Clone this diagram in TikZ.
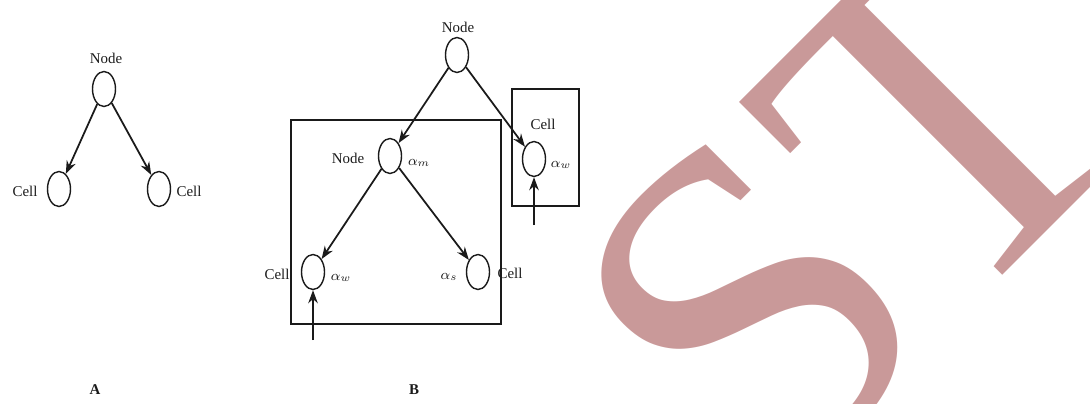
\documentclass[tikz,border=0pt]{standalone}
\usepackage{fontspec}
\setmainfont{Liberation Serif}
\usepackage{xcolor}
\definecolor{inkgray}{HTML}{1A1A1A}
\definecolor{markrose}{HTML}{C99999}
\usepackage{tikz}
\usetikzlibrary{shapes.geometric, arrows.meta}
\tikzset{
  tnode/.style={ellipse, draw=inkgray, line width=0.8pt, minimum width=4.6mm, minimum height=7mm, inner sep=0pt},
  tarr/.style ={-{Stealth[length=2.6mm, width=1.9mm]}, line width=1pt, color=inkgray},
  tlbl/.style ={font=\fontsize{8.5}{10}\selectfont, text=inkgray, inner sep=0pt},
  tbox/.style ={draw=inkgray, line width=1.2pt},
  tcap/.style ={font=\fontsize{8.5}{10}\selectfont\bfseries, text=inkgray, inner sep=0pt},
  tmark/.style={font=\fontsize{268}{268}\selectfont, text=markrose, rotate=45, anchor=base west, inner sep=0pt},
}

\begin{document}
\begin{tikzpicture}[x=0.2mm, y=-0.2mm]
  \useasboundingbox (0,0) rectangle (1090,403);
  % watermark
  \node[tmark] (mark) at (766,512) {ST};
  % tree A
  \node[tlbl]  (anodel) at (106,58)  {Node};
  \node[tnode] (aroot)  at (104,89)  {};
  \node[tnode] (acl)    at (59,189)  {};
  \node[tnode] (acr)    at (159,189) {};
  \node[tlbl]  (acll)   at (25,191)  {Cell};
  \node[tlbl]  (acrl)   at (189,191) {Cell};
  \draw[tarr] (aroot) -- (acl);
  \draw[tarr] (aroot) -- (acr);
  \node[tcap]  (capa)   at (95,390)  {A};
  % tree B
  \node[tlbl]  (bnodel) at (458,27)  {Node};
  \node[tnode] (broot)  at (457,55)  {};
  \node[tnode] (bmid)   at (390,156) {};
  \node[tlbl]  (bmidl)  at (348,158) {Node};
  \node[tlbl]  (bmida)  at (419,163) {$\alpha_m$};
  \node[tnode] (bcl)    at (313,272) {};
  \node[tlbl]  (bcll)   at (277,274) {Cell};
  \node[tlbl]  (bcla)   at (341,278) {$\alpha_w$};
  \node[tnode] (bcr)    at (478,272) {};
  \node[tlbl]  (bcrl)   at (510,273) {Cell};
  \node[tlbl]  (bcra)   at (449,277) {$\alpha_s$};
  \node[tnode] (bcw)    at (534,159) {};
  \node[tlbl]  (bcwl)   at (543,124) {Cell};
  \node[tlbl]  (bcwa)   at (561,165) {$\alpha_w$};
  % boxes
  \draw[tbox] (291,120) rectangle (501,324);
  \draw[tbox] (512,89) rectangle (579,206);
  % links
  \draw[tarr] (broot) -- (bmid);
  \draw[tarr] (broot) -- (bcw);
  \draw[tarr] (bmid) -- (bcl);
  \draw[tarr] (bmid) -- (bcr);
  \coordinate (inl) at (313,340);
  \coordinate (inw) at (534,225);
  \draw[tarr] (inl) -- (bcl);
  \draw[tarr] (inw) -- (bcw);
  \node[tcap]  (capb)   at (414,390) {B};
\end{tikzpicture}
\end{document}
